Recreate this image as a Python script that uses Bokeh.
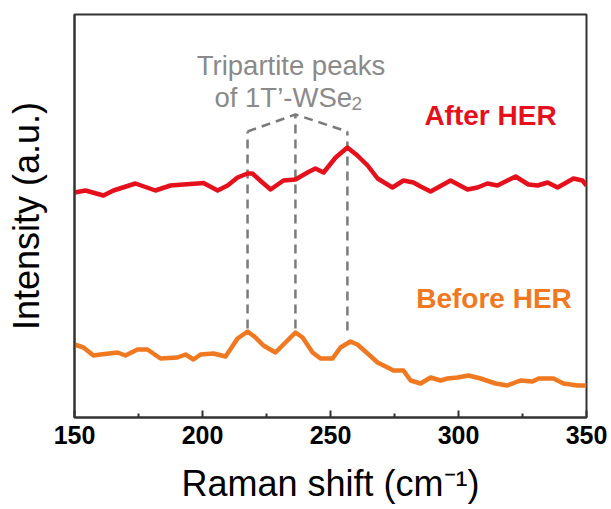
from bokeh.plotting import figure
from bokeh.models import Range1d, FixedTicker, Label
from bokeh.embed import file_html
from bokeh.resources import INLINE

# ---- data (intensity in arbitrary units) ----
shift_after = [150.0, 154.3, 161.3, 165.2, 173.8, 181.6, 187.5, 192.6, 198.0, 200.4,
               205.9, 209.8, 213.7, 217.6, 219.5, 223.4, 226.6, 231.6, 236.3, 241.0,
               244.1, 247.3, 252.0, 256.6, 260.5, 264.5, 268.4, 274.2, 278.5, 282.4,
               285.2, 289.1, 296.9, 303.5, 307.4, 311.3, 315.2, 322.3, 327.3, 330.9,
               334.8, 338.7, 344.9, 348.4, 350.0]
int_after = [225, 227, 222, 227, 234, 227, 232, 233, 234, 234.5,
             227, 232, 240, 244, 244, 235, 228, 237, 238, 245,
             249, 245, 260, 270, 262, 252, 239, 230, 237, 235,
             231, 226, 237, 228, 230, 234, 232, 241, 233, 232,
             235, 230, 239, 237, 232]

shift_before = [150.0, 153.5, 157.4, 160.2, 166.8, 169.9, 174.6, 178.5, 183.6, 190.2,
                193.4, 196.5, 199.2, 204.3, 209.0, 213.7, 217.6, 220.7, 223.8, 228.5,
                233.2, 236.3, 239.1, 243.0, 246.1, 250.8, 253.9, 257.8, 260.5, 264.5,
                268.4, 272.3, 274.6, 278.5, 281.3, 285.2, 289.1, 293.0, 295.7, 299.6,
                303.9, 308.6, 314.5, 319.1, 324.2, 328.9, 331.3, 337.1, 341.0, 346.5,
                350.0]
int_before = [73, 70, 62, 63, 65, 62, 68, 68, 59, 60,
              63, 58, 63, 64, 61, 79, 86, 80, 72, 65,
              77, 85, 80, 65, 59, 59, 70, 76, 73, 64,
              55, 50, 47, 47, 37, 34, 40, 37, 39, 40,
              42, 39, 34, 32, 37, 36, 39, 39, 34, 32,
              32]

peak_positions = [217.6, 236.3, 256.6]
guide_bottom = [89, 89, 87]
guide_top = [286, 303, 286]

x_ticks = [150, 200, 250, 300, 350]
x_minor_ticks = [175, 225, 275, 325]

FONT = "Liberation Sans"
RED = "#e5101c"
ORANGE = "#f07820"
GRAY = "#8a8a8a"
DASH_GRAY = "#7a7a7a"
DARK = "#333333"

p = figure(width=611, height=509, output_backend="svg", toolbar_location=None,
           x_range=Range1d(150, 350), y_range=Range1d(0, 403),
           min_border_left=74, min_border_right=25, min_border_top=14,
           min_border_bottom=92)
p.background_fill_color = "white"
p.border_fill_color = "white"
p.outline_line_color = DARK
p.outline_line_width = 2
p.xgrid.visible = False
p.ygrid.visible = False

# x axis
xa = p.xaxis[0]
xa.ticker = FixedTicker(ticks=x_ticks, minor_ticks=x_minor_ticks)
xa.axis_line_color = DARK
xa.axis_line_width = 2
xa.major_tick_in = 7
xa.major_tick_out = 0
xa.minor_tick_in = 4
xa.minor_tick_out = 0
xa.major_tick_line_color = DARK
xa.major_tick_line_width = 2
xa.minor_tick_line_color = DARK
xa.minor_tick_line_width = 2
xa.major_label_text_font = FONT
xa.major_label_text_font_size = "25px"
xa.major_label_text_font_style = "bold"
xa.major_label_text_color = "black"
xa.major_label_standoff = 8
xa.axis_label = "Raman shift (cm\u207b\u00b9)"
xa.axis_label_text_font = FONT
xa.axis_label_text_font_size = "36px"
xa.axis_label_text_font_style = "normal"
xa.axis_label_text_color = "black"
xa.axis_label_standoff = 16

# y axis
ya = p.yaxis[0]
ya.ticker = FixedTicker(ticks=[])
ya.axis_line_color = DARK
ya.axis_line_width = 2
ya.major_label_text_font_size = "0px"
ya.axis_label = "Intensity (a.u.)"
ya.axis_label_text_font = FONT
ya.axis_label_text_font_size = "36px"
ya.axis_label_text_font_style = "normal"
ya.axis_label_text_color = "black"
ya.axis_label_standoff = 28

# guide lines
p.segment(x0=peak_positions, y0=guide_bottom, x1=peak_positions, y1=guide_top,
          line_color=DASH_GRAY, line_width=2.5, line_dash="9 6")
p.line(x=peak_positions, y=guide_top, line_color=DASH_GRAY, line_width=2.5, line_dash="9 6")

# spectra
p.line(shift_after, int_after, line_color=RED, line_width=4.5, line_join="round")
p.line(shift_before, int_before, line_color=ORANGE, line_width=4.5, line_join="round")

def px2x(px):
    return 150 + (px - 74) / 2.56

labels = [
    Label(x=px2x(290.5), y=352, text="Tripartite peaks", text_font=FONT,
          text_font_size="27.5px", text_color=GRAY, text_align="center",
          text_baseline="alphabetic"),
    Label(x=px2x(214), y=320, text="of 1T\u2019-WSe", text_font=FONT,
          text_font_size="27.5px", text_color=GRAY, text_align="left",
          text_baseline="alphabetic"),
    Label(x=px2x(351), y=314, text="2", text_font=FONT,
          text_font_size="19px", text_color=GRAY, text_align="left",
          text_baseline="alphabetic"),
    Label(x=px2x(490), y=302, text="After HER", text_font=FONT,
          text_font_size="28px", text_font_style="bold", text_color=RED,
          text_align="center", text_baseline="alphabetic"),
    Label(x=px2x(493.5), y=119, text="Before HER", text_font=FONT,
          text_font_size="28px", text_font_style="bold", text_color=ORANGE,
          text_align="center", text_baseline="alphabetic"),
]
for lb in labels:
    p.add_layout(lb)

open("out.html", "w").write(file_html(p, INLINE))
